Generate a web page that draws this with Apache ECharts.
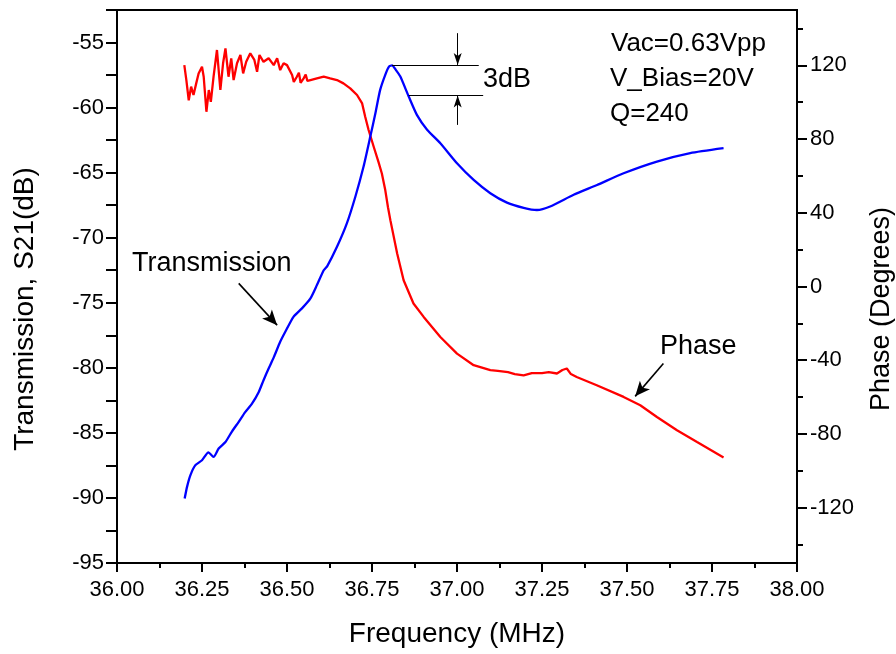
<!DOCTYPE html>
<html>
<head>
<meta charset="utf-8">
<script src="https://cdn.jsdelivr.net/npm/echarts@6/dist/echarts.min.js"></script>
<style>
html,body{margin:0;padding:0;background:#fff;}
#chart{width:896px;height:654px;}
</style>
</head>
<body>
<div id="chart"></div>
<script>
// ---- Data ----
const freqT = [36.199,36.206,36.216,36.230,36.250,36.269,36.284,36.299,36.319,36.338,36.358,36.377,36.397,36.417,36.431,36.446,36.461,36.480,36.495,36.519,36.544,36.569,36.588,36.608,36.618,36.647,36.676,36.701,36.725,36.745,36.760,36.774,36.789,36.800,36.809,36.820,36.833,36.858,36.882,36.912,36.951,37.000,37.049,37.098,37.147,37.196,37.235,37.274,37.343,37.412,37.490,37.588,37.686,37.784];
const s21 = [-90.05,-89.15,-88.25,-87.5,-87.1,-86.5,-86.85,-86.2,-85.7,-84.9,-84.15,-83.4,-82.75,-81.85,-80.95,-80.05,-79.2,-78.0,-77.23,-76.08,-75.43,-74.66,-73.64,-72.5,-72.2,-70.7,-68.9,-66.85,-64.55,-62.23,-60.43,-58.64,-57.48,-56.85,-56.75,-57.1,-57.6,-59.15,-60.56,-61.7,-62.74,-64.28,-65.56,-66.58,-67.3,-67.7,-67.87,-67.6,-66.7,-65.95,-65.05,-64.15,-63.5,-63.12];

const freqP = [36.198,36.204,36.211,36.218,36.225,36.233,36.240,36.250,36.255,36.263,36.270,36.276,36.284,36.294,36.304,36.312,36.319,36.328,36.336,36.343,36.353,36.363,36.371,36.380,36.392,36.404,36.412,36.419,36.431,36.446,36.461,36.471,36.480,36.490,36.500,36.515,36.520,36.529,36.535,36.540,36.549,36.555,36.560,36.569,36.588,36.608,36.627,36.647,36.666,36.686,36.706,36.721,36.730,36.740,36.755,36.769,36.779,36.789,36.797,36.804,36.824,36.843,36.872,36.902,36.951,37.000,37.049,37.098,37.120,37.150,37.170,37.196,37.220,37.250,37.270,37.294,37.310,37.323,37.335,37.352,37.411,37.490,37.539,37.588,37.647,37.706,37.784];
const phase = [120.1,112,101,108.4,103.9,110.2,115.6,119.2,113.8,94.8,106.6,100.2,113.8,128.3,106.6,121.1,129.2,113.8,123.8,112,121.1,125.6,115.6,121.9,126.5,122.9,116.5,125.6,121.9,123.8,120.1,123.8,117.4,121.1,120.1,114.7,111,113.8,116,110.5,112.9,115,111.5,112,112.9,113.8,112.9,112,110.2,107.5,103.9,99.3,92.1,84.9,75.8,67.6,61.3,52.3,43,36.0,17.9,3.4,-9.2,-16.5,-27.4,-36.4,-42.7,-45.4,-45.8,-46.5,-47.5,-48.2,-47.0,-47.0,-46.5,-47.2,-45.3,-44.5,-47.5,-49.1,-53.6,-59.9,-64.4,-70.8,-78.0,-84.4,-92.8];

// Axis tick values
const phaseLabels = [-120,-80,-40,0,40,80,120];
const phaseMinorTicks = [-140,-100,-60,-20,20,60,100,140];

// Annotation geometry (data coordinates)
const lineTop = [[36.809,-56.72],[37.064,-56.72]];
const lineBottom = [[36.858,-59.08],[37.077,-59.08]];
const arrowDown = [[37.002,-54.28],[37.002,-56.72]];
const arrowUp = [[37.002,-61.33],[37.002,-59.08]];
const arrowTrans = [[36.358,-73.51],[36.471,-76.72]];
const arrowPhase = [[37.607,-41.8],[37.524,-59.6]];

const FONT = '"Liberation Sans", Arial, Helvetica, sans-serif';

const chart = echarts.init(document.getElementById('chart'), null, {renderer:'canvas'});

function pair(a){ return [{coord:a[0]},{coord:a[1]}]; }

const black = '#000';
const axisLineStyle = {color: black, width: 2};

const option = {
  backgroundColor: '#fff',
  animation: false,
  grid: {left: 117, right: 99, top: 10, bottom: 91, show: true, borderColor: black, borderWidth: 2, backgroundColor: 'transparent'},
  xAxis: {
    type: 'value', min: 36, max: 38, interval: 0.25,
    axisLine: {show: true, onZero: false, lineStyle: axisLineStyle},
    axisTick: {show: true, inside: false, length: 9, lineStyle: {color: black, width: 2}},
    minorTick: {show: true, splitNumber: 2, length: 5, lineStyle: {color: black, width: 2}},
    axisLabel: {color: black, fontFamily: FONT, fontSize: 22, margin: 16, formatter: v => v.toFixed(2)},
    splitLine: {show: false}, minorSplitLine: {show: false}
  },
  yAxis: [
    {
      type: 'value', position: 'left', min: -95, max: -52.5, interval: 2.5,
      axisLine: {show: true, onZero: false, lineStyle: axisLineStyle},
      axisTick: {show: true, inside: false, length: 11, lineStyle: {color: black, width: 2}},
      axisLabel: {color: black, fontFamily: FONT, fontSize: 22, margin: 13,
        formatter: v => (Math.abs(v % 5) < 1e-6 ? String(v) : '')},
      splitLine: {show: false}
    },
    {
      type: 'value', position: 'right', min: -150, max: 150,
      axisLine: {show: true, onZero: false, lineStyle: axisLineStyle},
      axisTick: {show: true, inside: false, length: 10, customValues: phaseLabels, lineStyle: {color: black, width: 2}},
      axisLabel: {color: black, fontFamily: FONT, fontSize: 22, margin: 13, customValues: phaseLabels},
      splitLine: {show: false}
    },
    {
      type: 'value', position: 'right', min: -150, max: 150, offset: 0,
      axisLine: {show: false},
      axisTick: {show: true, inside: false, length: 6, customValues: phaseMinorTicks, lineStyle: {color: black, width: 2}},
      axisLabel: {show: false},
      splitLine: {show: false}
    }
  ],
  series: [
    {
      name: 'Transmission', type: 'line', xAxisIndex: 0, yAxisIndex: 0,
      data: freqT.map((f, i) => [f, s21[i]]),
      showSymbol: false, symbol: 'none', smooth: 0.2,
      lineStyle: {color: '#0000ff', width: 2.3}, itemStyle: {color: '#0000ff'},
      z: 3,
      markLine: {
        silent: true, animation: false,
        label: {show: false},
        emphasis: {disabled: true},
        data: [
          pair(lineTop),
          pair(lineBottom),
          pair(arrowDown),
          pair(arrowUp),
          pair(arrowTrans)
        ].map((d, i) => {
          const isArrow = i >= 2;
          const w = i === 4 ? 1.6 : 1;
          return [
            Object.assign({}, d[0], {symbol: 'none', lineStyle: {color: black, width: w, type: 'solid'}}),
            Object.assign({}, d[1], {symbol: isArrow ? 'arrow' : 'none', symbolSize: i === 4 ? [10, 15] : [6, 12]})
          ];
        }),
        symbol: ['none', 'none'],
        lineStyle: {color: black, width: 1, type: 'solid'}
      }
    },
    {
      name: 'Phase', type: 'line', xAxisIndex: 0, yAxisIndex: 1,
      data: freqP.map((f, i) => [f, phase[i]]),
      showSymbol: false, symbol: 'none',
      lineStyle: {color: '#ff0000', width: 2.3}, itemStyle: {color: '#ff0000'},
      z: 2,
      markLine: {
        silent: true, animation: false,
        label: {show: false},
        emphasis: {disabled: true},
        symbol: ['none', 'arrow'], symbolSize: [10, 15],
        lineStyle: {color: black, width: 1.6, type: 'solid'},
        data: [pair(arrowPhase)]
      }
    }
  ],
  graphic: [
    {type: 'text', x: 25, y: 309, rotation: Math.PI / 2,
      style: {text: 'Transmission, S21(dB)', font: '28px ' + FONT, fill: black, align: 'center', verticalAlign: 'middle', textAlign: 'center', textVerticalAlign: 'middle'}},
    {type: 'text', x: 882, y: 309, rotation: Math.PI / 2,
      style: {text: 'Phase (Degrees)', font: '27px ' + FONT, fill: black, align: 'center', verticalAlign: 'middle', textAlign: 'center', textVerticalAlign: 'middle'}},
    {type: 'text', x: 457, y: 634,
      style: {text: 'Frequency (MHz)', font: '28px ' + FONT, fill: black, align: 'center', verticalAlign: 'middle', textAlign: 'center', textVerticalAlign: 'middle'}},
    {type: 'text', x: 611, y: 44,
      style: {text: 'Vac=0.63Vpp', font: '26px ' + FONT, fill: black, align: 'left', verticalAlign: 'middle', textAlign: 'left', textVerticalAlign: 'middle'}},
    {type: 'text', x: 610, y: 79,
      style: {text: 'V_Bias=20V', font: '26px ' + FONT, fill: black, align: 'left', verticalAlign: 'middle', textAlign: 'left', textVerticalAlign: 'middle'}},
    {type: 'text', x: 610, y: 114,
      style: {text: 'Q=240', font: '26px ' + FONT, fill: black, align: 'left', verticalAlign: 'middle', textAlign: 'left', textVerticalAlign: 'middle'}},
    {type: 'text', x: 483, y: 80,
      style: {text: '3dB', font: '27px ' + FONT, fill: black, align: 'left', verticalAlign: 'middle', textAlign: 'left', textVerticalAlign: 'middle'}},
    {type: 'text', x: 132, y: 264,
      style: {text: 'Transmission', font: '27px ' + FONT, fill: black, align: 'left', verticalAlign: 'middle', textAlign: 'left', textVerticalAlign: 'middle'}},
    {type: 'text', x: 660, y: 347,
      style: {text: 'Phase', font: '27px ' + FONT, fill: black, align: 'left', verticalAlign: 'middle', textAlign: 'left', textVerticalAlign: 'middle'}}
  ]
};
chart.setOption(option);
</script>
</body>
</html>
